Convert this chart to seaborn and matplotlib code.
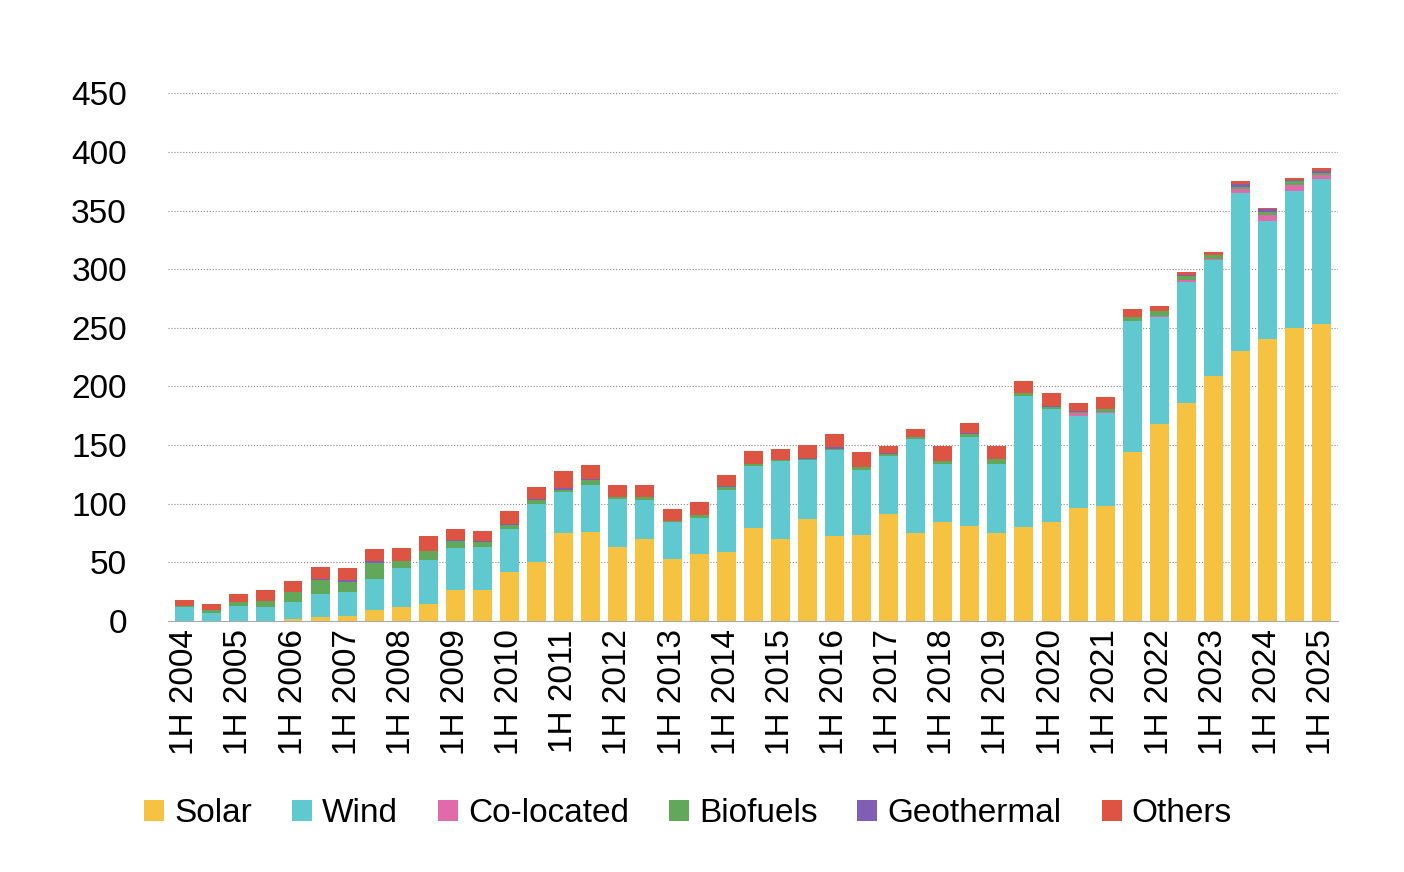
import matplotlib
matplotlib.use("Agg")
import matplotlib.pyplot as plt
import seaborn as sns
import numpy as np
import pandas as pd

periods = []
for y in range(2004, 2026):
    periods.append(f"1H {y}")
    if y < 2025:
        periods.append(f"2H {y}")

solar = [0,0,0,0,2,3,4,9,12,14,26,26,42,50,75,76,63,70,53,57,59,79,70,87,72,73,91,75,84,81,75,80,84,96,98,144,168,186,209,230,240,250,253]
wind = [12,7,13,12,14,20,21,27,33,38,36,37,36,50,35,40,41,33,31,31,53,53,66,50,74,56,50,80,50,76,59,112,97,79,79,112,91,103,99,135,101,117,124]
colocated = [0,0,0,0,0,0,0,0,0,0,0,0,0,0,0,0,0,0,0,0,0,0,0,0,0,0,0,0,0,0,0,0,0,2,1,0,1,2,1,3,5,5,3]
biofuels = [1,2,3,5,9,12,8,13,6,8,6,4,4,3,2,4,2,3,1,2,2,2,1,1,1,2,1,2,2,2,4,2,1,1,3,3,4,3,3,2,3,3,2]
geothermal = [0,0,0,0,0,1,2,2,0,0,1,1,1,1,1,1,0,0,0,0,1,0,0,1,1,0,1,0,0,1,0,0,1,1,0,0,0,1,0,3,2,1,2]
others = [5,5,7,9,9,10,10,10,11,12,9,9,11,10,15,12,10,10,10,11,9,11,10,11,11,13,6,7,13,9,11,11,11,7,10,7,5,3,3,2,1,2,2]

series = [("Solar", solar, "#F5C242"), ("Wind", wind, "#5FC9CF"),
          ("Co-located", colocated, "#E06AAA"), ("Biofuels", biofuels, "#62A85A"),
          ("Geothermal", geothermal, "#7E5FB4"), ("Others", others, "#DE5443")]

sns.set_style("white")
plt.rcParams['font.family'] = ['Liberation Sans', 'DejaVu Sans']
plt.rcParams['text.color'] = 'black'
fig = plt.figure(figsize=(14.04, 8.72), dpi=100)
ax = fig.add_axes([0.12, 0.288, 0.833, 0.605])

bottom = np.zeros(len(periods))
for name, vals, col in series:
    df = pd.DataFrame({"period": periods, "v": vals})
    sns.barplot(data=df, x="period", y="v", order=periods, color=col, bottom=bottom,
                width=0.7, ax=ax, label=name, saturation=1, linewidth=0, errorbar=None)
    bottom = bottom + np.array(vals)

h, l = ax.get_legend_handles_labels()
if ax.get_legend() is not None:
    ax.get_legend().remove()

ax.set_ylim(0, 450)
ax.set_xlim(-0.6, len(periods) - 0.4)
ax.set_yticks(range(0, 451, 50))
ax.yaxis.grid(True, linestyle=":", color="#888888", linewidth=0.8)
ax.set_axisbelow(True)
ax.set_xticks(range(0, len(periods), 2))
ax.set_xticklabels(periods[::2], rotation=90, fontsize=24, color="black")
ax.tick_params(axis='y', labelsize=24, length=0, pad=30, labelcolor="black")
ax.tick_params(axis='x', length=0, pad=6)
for s in ["left", "right", "top"]:
    ax.spines[s].set_visible(False)
ax.spines["bottom"].set_color("#AAAAAA")
ax.set_xlabel("")
ax.set_ylabel("")
fig.legend(h, l, loc="lower center", bbox_to_anchor=(0.49, 0.015), ncol=6, frameon=False,
           fontsize=24, handlelength=0.6, handleheight=0.6, handletextpad=0.3, columnspacing=1.2)
fig.savefig("out.png", dpi=100)
